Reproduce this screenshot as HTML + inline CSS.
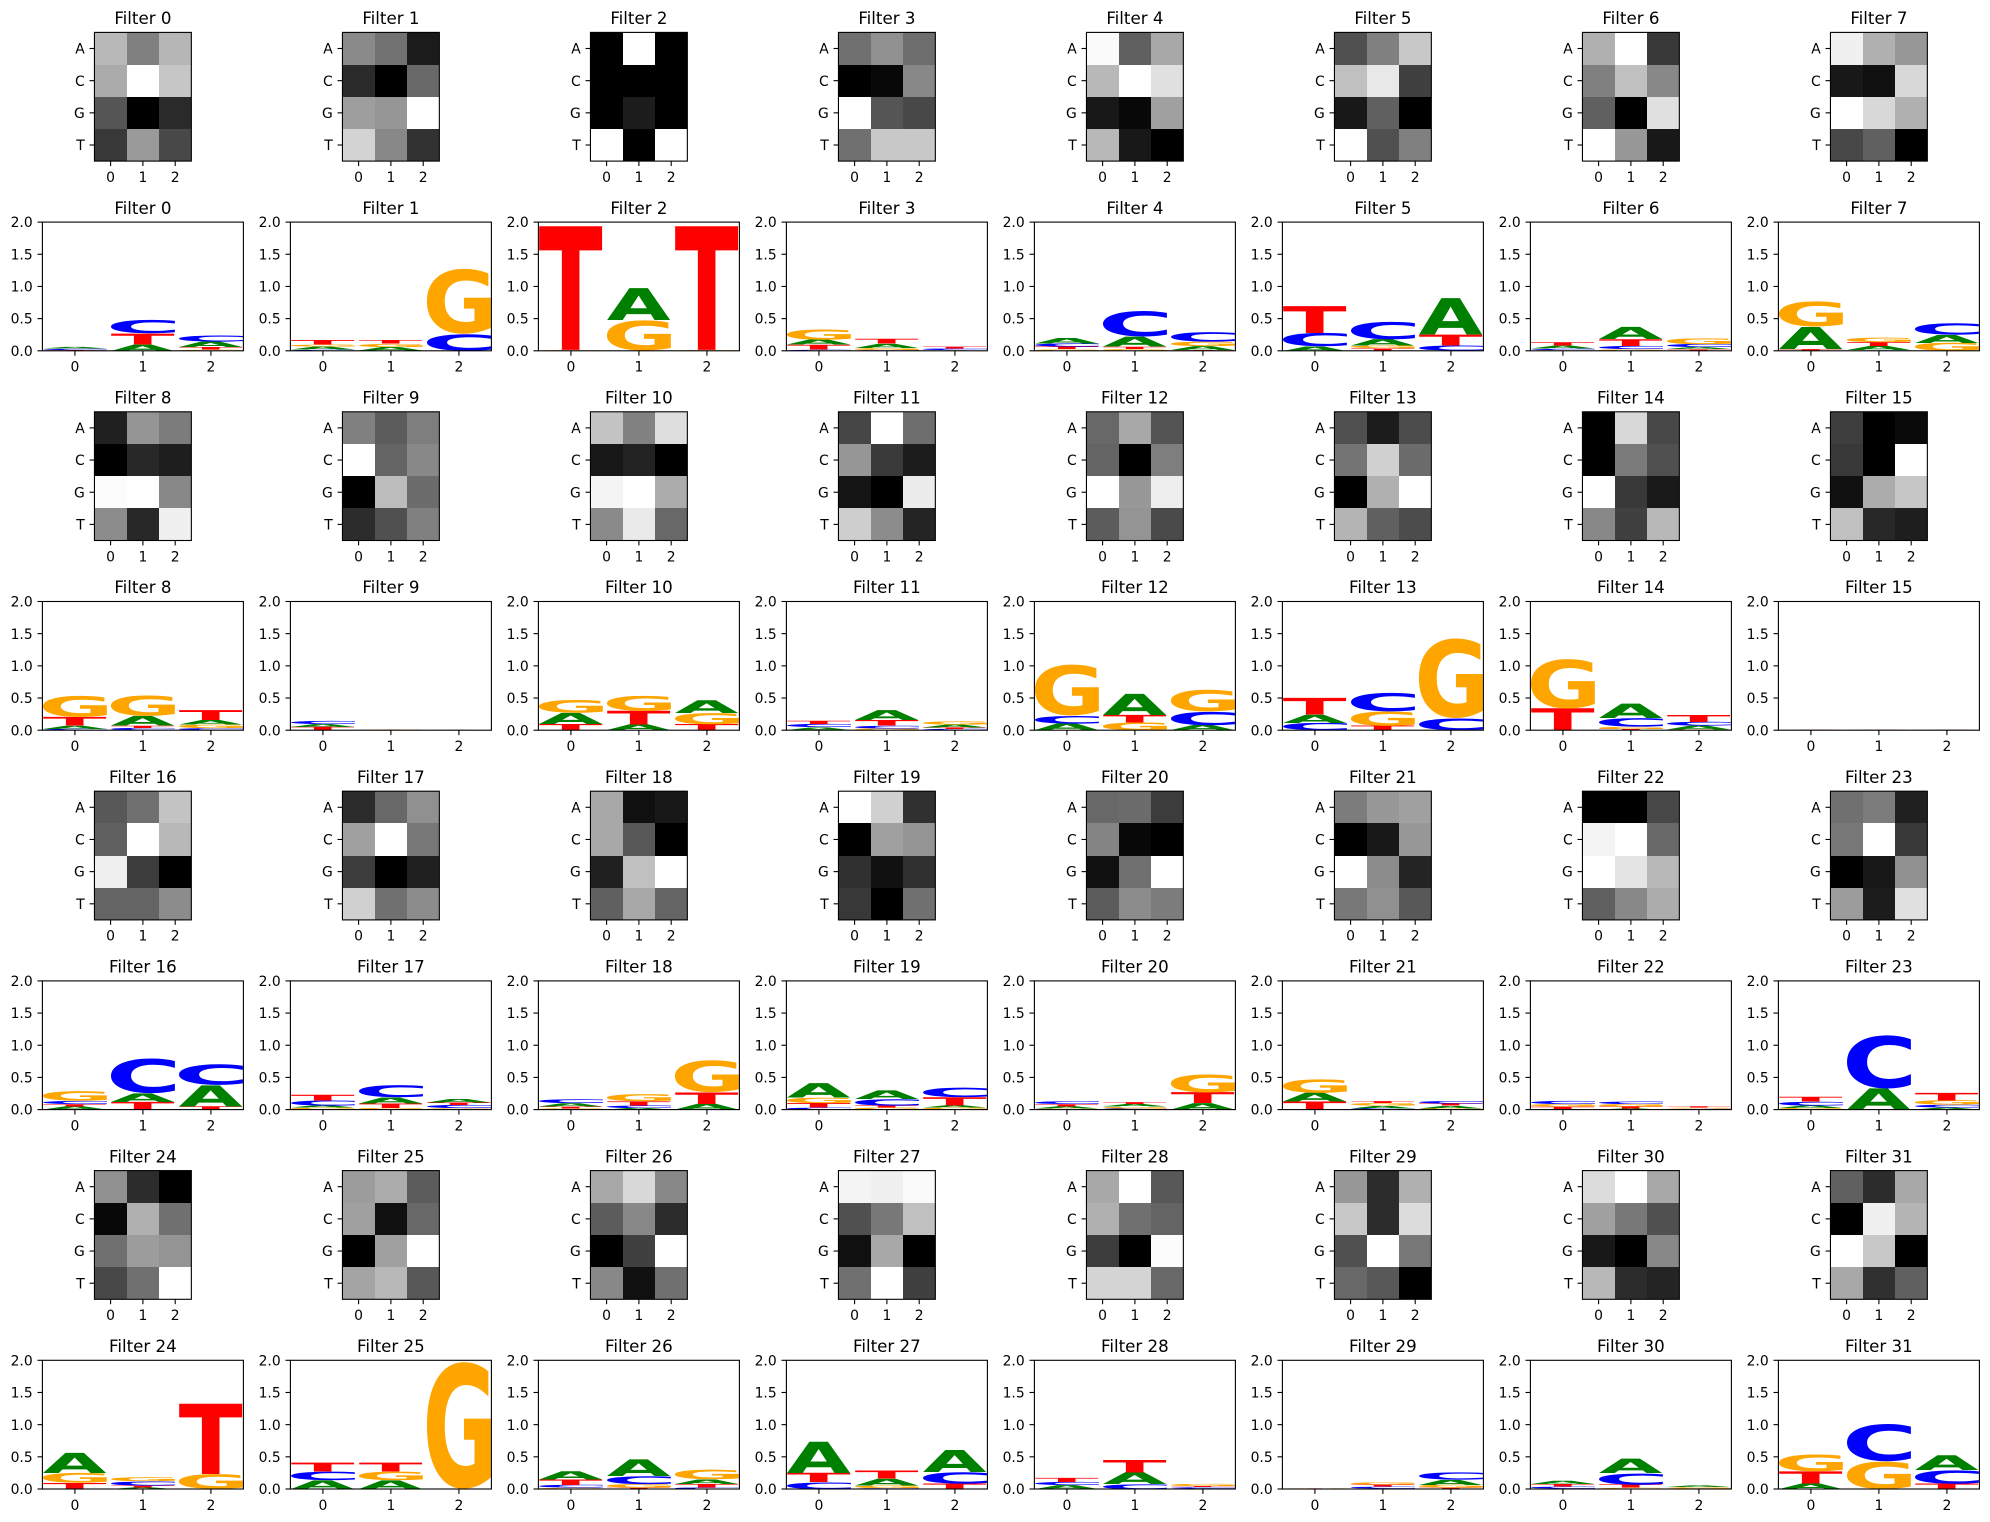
<!DOCTYPE html>
<html lang="en">
<head>
<meta charset="utf-8">
<title>Filter heatmaps and sequence logos</title>
<style>
html,body{margin:0;padding:0;background:#fff;}
svg{display:block;}
text{font-family:"DejaVu Sans","Liberation Sans",sans-serif;fill:#000;}
.letter{font-family:"DejaVu Sans","Liberation Sans",sans-serif;font-weight:bold;font-size:100px;text-rendering:geometricPrecision;}
</style>
</head>
<body>
<svg id="figure" width="1990" height="1522" viewBox="0 0 1990 1522" xmlns="http://www.w3.org/2000/svg"></svg>
<script>
const filterTitles = ['Filter 0','Filter 1','Filter 2','Filter 3','Filter 4','Filter 5','Filter 6','Filter 7','Filter 8','Filter 9','Filter 10','Filter 11','Filter 12','Filter 13','Filter 14','Filter 15','Filter 16','Filter 17','Filter 18','Filter 19','Filter 20','Filter 21','Filter 22','Filter 23','Filter 24','Filter 25','Filter 26','Filter 27','Filter 28','Filter 29','Filter 30','Filter 31'];
const baseLabels = ['A','C','G','T'];
const positionLabels = ['0','1','2'];
const bitTicks = [0,0.5,1,1.5,2];
const bitTickLabels = ['0.0','0.5','1.0','1.5','2.0'];

// Gray level (0 black .. 255 white) per filter, rows A/C/G/T, columns position 0/1/2
const heatmapValues = [
[[184,128,182],[171,255,198],[85,0,42],[56,154,72]],
[[138,114,27],[42,0,104],[158,150,255],[211,136,50]],
[[0,255,0],[0,0,0],[0,28,0],[255,0,255]],
[[112,144,110],[0,8,136],[255,85,72],[112,200,200]],
[[250,96,168],[184,255,224],[24,8,160],[184,24,0]],
[[80,128,200],[192,232,64],[24,96,0],[255,80,128]],
[[176,255,56],[128,192,136],[96,0,224],[255,152,24]],
[[240,176,152],[24,16,216],[255,216,176],[72,96,0]],
[[32,149,124],[0,40,30],[252,255,136],[140,40,240]],
[[128,92,126],[255,100,136],[0,188,108],[44,80,128]],
[[196,130,222],[24,34,0],[244,255,172],[138,234,104]],
[[70,255,110],[150,58,28],[20,0,236],[206,140,36]],
[[104,168,84],[100,0,126],[255,152,238],[92,148,74]],
[[80,28,76],[116,208,108],[0,176,255],[180,96,76]],
[[0,216,72],[0,122,80],[255,56,26],[136,64,184]],
[[62,0,10],[56,0,255],[16,172,198],[192,40,30]],
[[88,112,196],[96,255,184],[240,60,0],[100,100,140]],
[[44,104,144],[160,255,120],[60,0,32],[208,112,140]],
[[168,16,24],[168,88,0],[32,192,255],[96,168,100]],
[[255,208,48],[0,160,148],[48,16,48],[56,0,112]],
[[104,108,60],[132,8,0],[16,112,255],[92,140,124]],
[[124,152,160],[0,24,152],[255,140,36],[120,144,88]],
[[0,0,72],[244,255,104],[255,228,184],[96,136,172]],
[[112,124,32],[120,255,56],[0,24,144],[156,28,224]],
[[144,44,0],[8,176,112],[112,156,148],[72,112,255]],
[[156,172,92],[160,16,104],[0,160,255],[164,184,88]],
[[168,216,136],[92,136,44],[0,64,255],[136,16,112]],
[[244,240,250],[80,120,192],[16,168,0],[112,255,64]],
[[168,255,88],[176,112,100],[60,0,252],[212,212,104]],
[[152,44,176],[200,44,220],[80,255,120],[104,88,0]],
[[220,255,168],[160,120,80],[24,0,136],[184,44,36]],
[[96,44,168],[0,240,180],[255,200,0],[168,48,96]]
];

// Stack order per filter/position, bottom to top
const logoLetters = [
['TCA','ATC','GTAC'],['CAGT','CAGT','CG'],['GT','GA','GT'],['CTAG','CGAT','ACT'],
['GTCA','GTAC','TAGC'],['ACT','TGAC','CTA'],['GCAT','GCTA','TACG'],['TAG','CATG','GAC'],
['CATG','CTAG','CGAT'],['TAC','TG','GT'],['TAG','ATG','TGA'],['GACT','GCTA','CTAG'],
['ACG','GTA','ACG'],['CAT','TGC','CG'],['TG','TGCA','GACT'],['ACGT','ACGT','ACGT'],
['ATCG','TAC','TAC'],['GACT','GTAC','GCTA'],['GTAC','ACTG','ATG'],['CTGA','GTCA','GATC'],
['GATC','CGAT','ATG'],['TAG','CAGT','GATC'],['ATGC','ATGC','ACGT'],['GACT','AC','ACGT'],
['TGA','ATCG','GT'],['ACT','AGT','G'],['GCTA','TGCA','CTAG'],['CTA','CGAT','TCA'],
['ACT','CAT','ACTG'],['CAGT','ACTG','TGAC'],['GCTA','GTCA','CGA'],['ATG','GC','TCA']
];

// Letter heights in bits, matching logoLetters
const logoHeights = [
[[.015,.02,.025],[.10,.17,.21],[.02,.04,.085,.095]],
[[.02,.045,.03,.07],[.005,.055,.05,.055],[.26,1.02]],
[[.015,1.935],[.475,.5],[.015,1.935]],
[[.02,.075,.08,.16],[.015,.03,.065,.075],[.01,.025,.03]],
[[.025,.04,.05,.085],[.03,.035,.155,.40],[.015,.06,.07,.15]],
[[.07,.21,.42],[.04,.04,.10,.275],[.08,.17,.57]],
[[.015,.02,.045,.05],[.025,.05,.105,.19],[.025,.03,.05,.09]],
[[.03,.345,.395],[.01,.065,.06,.07],[.125,.125,.18]],
[[.02,.05,.135,.33],[.035,.035,.15,.32],[.03,.055,.07,.155]],
[[.05,.045,.05],[.006,.006],[.002,.002]],
[[.095,.175,.2],[.09,.215,.235],[.095,.175,.2]],
[[.005,.04,.05,.05],[.025,.045,.085,.155],[.02,.025,.045,.05]],
[[.105,.12,.8],[.12,.12,.33],[.08,.21,.34]],
[[.115,.13,.26],[.07,.225,.29],[.185,1.25]],
[[.34,.775],[.02,.035,.135,.225],[.01,.06,.06,.11]],
[[.001,.001,.001,.001],[.001,.001,.001,.001],[.001,.001,.001,.001]],
[[.05,.035,.05,.15],[.12,.135,.545],[.05,.33,.325]],
[[.03,.035,.08,.09],[.025,.07,.095,.19],[.02,.05,.04,.055]],
[[.02,.03,.05,.06],[.025,.04,.065,.11],[.09,.18,.5]],
[[.03,.07,.085,.225],[.03,.035,.1,.135],[.03,.035,.13,.15]],
[[.015,.035,.035,.045],[.02,.025,.04,.03],[.1,.17,.28]],
[[.125,.14,.21],[.02,.04,.04,.03],[.02,.04,.035,.04]],
[[.01,.035,.04,.05],[.015,.035,.04,.04],[.005,.01,.015,.02]],
[[.025,.04,.06,.075],[.33,.835],[.03,.045,.07,.12]],
[[.095,.155,.315],[.025,.03,.065,.06],[.23,1.1]],
[[.135,.135,.14],[.135,.135,.14],[1.99]],
[[.02,.045,.085,.13],[.02,.055,.125,.26],[.025,.055,.07,.15]],
[[.105,.145,.49],[.015,.04,.105,.125],[.085,.18,.345]],
[[.06,.05,.065],[.075,.185,.195],[.01,.02,.015,.035]],
[[.003,.003,.003,.003],[.01,.03,.03,.035],[.02,.045,.08,.115]],
[[.01,.03,.04,.05],[.02,.05,.175,.225],[.01,.02,.025]],
[[.085,.19,.265],[.43,.585],[.085,.21,.23]]
];

const letterColors = {A:'#008000',C:'#0000ff',G:'#ffa500',T:'#ff0000'};

const SVG_NS = 'http://www.w3.org/2000/svg';
const figure = document.getElementById('figure');
const AXES_LEFT = 42.4, COL_PITCH = 248, AXES_W = 201;
const ROW_TOP = 32.4, ROW_PITCH = 189.7, AXES_H = 128.7;
const HEAT_W = 96.9;
const HEAT_CELL_H = AXES_H / 4, HEAT_CELL_W = HEAT_W / 3;

function make(tag, attrs, parent, text) {
  const node = document.createElementNS(SVG_NS, tag);
  for (const key in attrs) node.setAttribute(key, attrs[key]);
  if (text !== undefined) node.textContent = text;
  parent.appendChild(node);
  return node;
}

const measureCtx = document.createElement('canvas').getContext('2d');
measureCtx.font = 'bold 1000px "DejaVu Sans"';
function inkBox(letter) {
  const m = measureCtx.measureText(letter);
  return {left:m.actualBoundingBoxLeft/10, right:m.actualBoundingBoxRight/10, asc:m.actualBoundingBoxAscent/10, desc:m.actualBoundingBoxDescent/10};
}

function addTitle(group, cx, top, label) {
  const t = make('text', {x:cx, y:top-8.3, 'text-anchor':'middle', 'font-size':16.67}, group, label);
  
  
}
function addXTick(group, x, bottom, label) {
  const line = make('line', {x1:x, x2:x, y1:bottom, y2:bottom+4.9, stroke:'#000', 'stroke-width':1.1}, group);
  
  
  const t = make('text', {x:x, y:bottom+20.8, 'text-anchor':'middle', 'font-size':13.89}, group, label);
  
  
}
function addYTick(group, left, y, label) {
  const line = make('line', {x1:left-4.9, x2:left, y1:y, y2:y, stroke:'#000', 'stroke-width':1.1}, group);
  
  
  const t = make('text', {x:left-9.7, y:y+5.1, 'text-anchor':'end', 'font-size':13.89}, group, label);
  
  
}
function addFrame(group, x, y, w, h) {
  const frame = make('rect', {x:x, y:y, width:w, height:h, fill:'none', stroke:'#000', 'stroke-width':1.1}, group);
  
  
}

function drawHeatmap(f, col, row) {
  const left = AXES_LEFT + COL_PITCH*col + (AXES_W-HEAT_W)/2;
  const top = ROW_TOP + ROW_PITCH*row;
  const xCell = p => left + p*HEAT_CELL_W;
  const yCell = b => top + b*HEAT_CELL_H;
  const g = make('g', {}, figure);
  
  
  heatmapValues[f].forEach((rowVals, b) => {
    rowVals.forEach((v, p) => {
      const x0 = Math.round(xCell(p)), x1 = Math.round(xCell(p+1));
      const y0 = Math.round(yCell(b)), y1 = Math.round(yCell(b+1));
      const cell = make('rect', {x:x0, y:y0, width:x1-x0, height:y1-y0, fill:'rgb('+v+','+v+','+v+')', 'shape-rendering':'crispEdges'}, g);
      
      
    });
  });
  addFrame(g, left, top, HEAT_W, AXES_H);
  addTitle(g, left+HEAT_W/2, top, filterTitles[f]);
  positionLabels.forEach((label, p) => addXTick(g, xCell(p+0.5), top+AXES_H, label));
  baseLabels.forEach((label, b) => addYTick(g, left, yCell(b+0.5), label));
}

const LOGO_FIRST = 32.5, LOGO_STEP = 68, LETTER_W = 64.4;
function drawLogo(f, col, row) {
  const left = AXES_LEFT + COL_PITCH*col;
  const top = ROW_TOP + ROW_PITCH*row;
  const bottom = top + AXES_H;
  const xPos = p => left + LOGO_FIRST + LOGO_STEP*p;
  const yBits = v => bottom - v/2*AXES_H;
  const g = make('g', {}, figure);
  
  
  const clipId = 'clip-' + f;
  const defs = make('defs', {}, g);
  const clip = make('clipPath', {id:clipId}, defs);
  make('rect', {x:left, y:top, width:AXES_W, height:AXES_H}, clip);
  const marks = make('g', {'clip-path':'url(#'+clipId+')'}, g);
  
  
  logoHeights[f].forEach((heights, p) => {
    let base = 0;
    heights.forEach((h, k) => {
      const letter = logoLetters[f][p][k];
      const box = inkBox(letter);
      const sx = LETTER_W / (box.left + box.right);
      const sy = (yBits(base) - yBits(base+h)) / (box.asc + box.desc);
      const tx = xPos(p) - LETTER_W/2 + sx*box.left;
      const ty = yBits(base) - sy*box.desc;
      const mark = make('text', {class:'letter', x:0, y:0, fill:letterColors[letter], style:'fill:'+letterColors[letter], transform:'translate('+tx+' '+ty+') scale('+sx+' '+sy+')'}, marks, letter);
      
      
      base += h;
    });
  });
  addFrame(g, left, top, AXES_W, AXES_H);
  addTitle(g, left+AXES_W/2, top, filterTitles[f]);
  positionLabels.forEach((label, p) => addXTick(g, xPos(p), bottom, label));
  bitTicks.forEach((v, i) => addYTick(g, left, yBits(v), bitTickLabels[i]));
}

filterTitles.forEach((title, f) => {
  const col = f % 8;
  const band = Math.floor(f / 8);
  drawHeatmap(f, col, band*2);
  drawLogo(f, col, band*2+1);
});
</script>
</body>
</html>
